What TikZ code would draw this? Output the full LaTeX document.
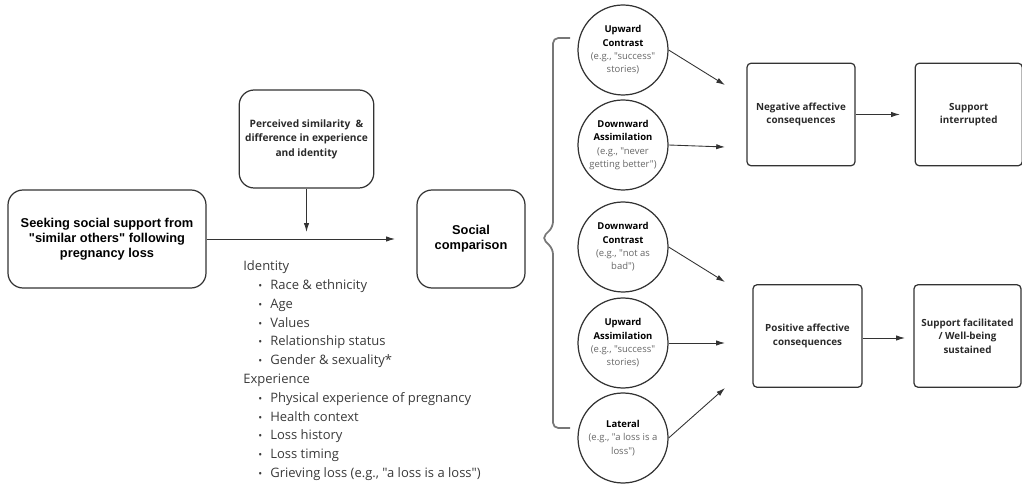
\documentclass[tikz,border=0pt]{standalone}
\usepackage{fontspec}
\setmainfont{Open Sans}[Ligatures=TeXOff]
\newfontfamily\arialfont{Liberation Sans}[Ligatures=TeXOff]
\usepackage{graphicx}
\usepackage{xcolor}
\usepackage{tikz}
\usetikzlibrary{positioning,arrows.meta}

\definecolor{linegray}{HTML}{333333}
\definecolor{titlegray}{HTML}{2A2A2A}
\definecolor{listgray}{HTML}{3A3A3A}
\definecolor{notegray}{HTML}{666666}
\definecolor{bracegray}{HTML}{777777}

\newcommand{\itm}[1]{\hspace*{0.3cm}\makebox[0.24cm][l]{\scalebox{0.8}{\textbullet}}#1}

\begin{document}
\begin{tikzpicture}[
    box/.style={draw=linegray, rectangle, rounded corners=0.3cm, line width=0.7pt, minimum height=1.96cm, align=center},
    sqbox/.style={draw=linegray, rectangle, rounded corners=0.08cm, line width=0.7pt, minimum width=2.16cm, minimum height=2.05cm, align=center, text=titlegray, font=\fontsize{5.6}{7.6}\selectfont\bfseries},
    kind/.style={draw=linegray, circle, line width=0.7pt, minimum size=1.8cm, inner sep=0pt, align=center, font=\fontsize{5.4}{7.6}\selectfont},
    arr/.style={draw=linegray, line width=0.5pt, -{Latex[length=5pt,width=3pt]}}
]
    \useasboundingbox (0,0) rectangle (20.44,9.7);

    % Seeking support
    \node [box, minimum width=3.96cm, font=\arialfont\fontsize{7.3}{8.5}\selectfont\bfseries] (seek) at (2.14,4.92) {Seeking social support from\\"similar others" following\\pregnancy loss};

    % Perceived similarity
    \node [box, minimum width=2.66cm, text=titlegray, font=\fontsize{5.8}{8.2}\selectfont\bfseries] (simil) at (6.13,6.92) {Perceived similarity~ \&\\difference in experience\\and identity};

    % Social comparison
    \node [box, minimum width=2.16cm, font=\arialfont\fontsize{7.3}{8.5}\selectfont\bfseries] (comp) at (9.42,4.92) {Social\\comparison};

    \coordinate (compin) at (7.9,4.92);
    \coordinate (similin) at (6.13,5.06);
    \draw [arr] (seek) -- (compin);
    \draw [arr] (simil) -- (similin);

    % Identity and experience
    \node [anchor=north west, inner sep=0pt, align=left, text=listgray, font=\fontsize{7.4}{10.7}\selectfont] (traits) at (4.86,4.49) {Identity\\
        \itm{Race \& ethnicity}\\
        \itm{Age}\\
        \itm{Values}\\
        \itm{Relationship status}\\
        \itm{Gender \& sexuality*}\\
        Experience\\
        \itm{Physical experience of pregnancy}\\
        \itm{Health context}\\
        \itm{Loss history}\\
        \itm{Loss timing}\\
        \itm{Grieving loss (e.g., "a loss is a loss")}};

    % Brace
    \draw [bracegray, line width=1pt, rounded corners=3pt] (11.4,8.94) -- (11.06,8.94) -- (11.06,5.16) -- (10.84,4.94) -- (11.06,4.72) -- (11.06,1.14) -- (11.4,1.14);

    % Comparison types
    \node [kind] (upc) at (12.46,8.70) {\textbf{Upward}\\\textbf{Contrast}\\\textcolor{notegray}{(e.g., "success"}\\\textcolor{notegray}{stories)}};
    \node [kind] (dna) at (12.46,6.80) {\textbf{Downward}\\\textbf{Assimilation}\\\textcolor{notegray}{(e.g., "never}\\\textcolor{notegray}{getting better")}};
    \node [kind] (dnc) at (12.46,4.76) {\textbf{Downward}\\\textbf{Contrast}\\\textcolor{notegray}{(e.g., "not as}\\\textcolor{notegray}{bad")}};
    \node [kind] (upa) at (12.46,2.84) {\textbf{Upward}\\\textbf{Assimilation}\\\textcolor{notegray}{(e.g., "success"}\\\textcolor{notegray}{stories)}};
    \node [kind] (lat) at (12.46,0.94) {\textbf{Lateral}\\\textcolor{notegray}{(e.g., "a loss is a}\\\textcolor{notegray}{loss")}};

    % Consequences
    \node [sqbox] (neg) at (16.02,7.41) {Negative affective\\consequences};
    \node [sqbox, minimum width=2.14cm, right=1.18cm of neg] (stop) {Support\\interrupted};
    \node [sqbox, minimum width=2.18cm] (pos) at (16.15,2.98) {Positive affective\\consequences};
    \node [sqbox, minimum width=2.14cm] (go) at (19.35,2.98) {Support facilitated\\/ Well-being\\sustained};

    \coordinate (negin1) at (14.5,8.0);
    \coordinate (negin2) at (14.5,6.76);
    \coordinate (posin1) at (14.5,4.06);
    \coordinate (posin2) at (14.5,2.84);
    \coordinate (posin3) at (14.5,1.94);
    \draw [arr] (upc.east) -- (negin1);
    \draw [arr] (dna.east) -- (negin2);
    \draw [arr] (dnc.east) -- (posin1);
    \draw [arr] (upa.east) -- (posin2);
    \draw [arr] (lat.east) -- (posin3);

    \coordinate (stopin) at (18.0,7.41);
    \coordinate (goin) at (18.1,2.94);
    \draw [arr] (neg) -- (stopin);
    \draw [arr] (pos.east |- goin) -- (goin);

\end{tikzpicture}
\end{document}
